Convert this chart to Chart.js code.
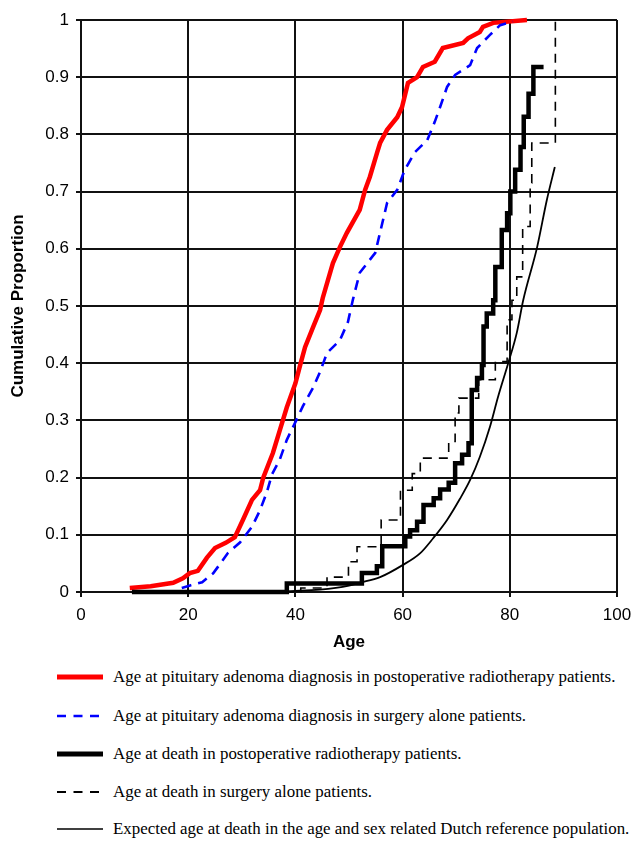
<!DOCTYPE html>
<html>
<head>
<meta charset="utf-8">
<script src="https://cdn.jsdelivr.net/npm/chart.js@4.4.1/dist/chart.umd.min.js"></script>
<style>
  html, body { margin: 0; padding: 0; background: #fff; }
  #wrap { position: relative; width: 635px; height: 841px; }
  #c { position: absolute; left: 0; top: 0; }
  .row { position: absolute; left: 0; height: 20px; display: flex; align-items: center; }
  .row svg { position: absolute; left: 57px; top: 0; }
  .row span { position: absolute; left: 113px; white-space: nowrap; font-family: "Liberation Serif", "Times New Roman", serif; font-size: 16.9px; color: #000; line-height: 20px; top: 0; }
</style>
</head>
<body>
<div id="wrap">
  <canvas id="c" width="635" height="660"></canvas>
  <div id="legend"></div>
</div>
<script>
// ---- Data ----
const seriesLabels = [
  "Age at pituitary adenoma diagnosis in postoperative radiotherapy patients.",
  "Age at pituitary adenoma diagnosis in surgery alone patients.",
  "Age at death in postoperative radiotherapy patients.",
  "Age at death in surgery alone patients.",
  "Expected age at death in the age and sex related Dutch reference population."
];

// Age at diagnosis, postoperative radiotherapy (ages / cumulative proportion)
const rtDiagAge  = [9.1, 13, 17.2, 19, 20.3, 21.8, 23.5, 25, 27, 28.7, 30.2, 31.9, 33.4, 34, 35.8, 37.1, 38.4, 40, 40.9, 41.8, 43.3, 44.6, 45.1, 47, 48.3, 49.6, 52, 53, 53.9, 55.2, 55.8, 57.1, 59, 59.9, 61, 62.7, 63.8, 66, 67.5, 71.3, 72.2, 74.4, 75, 76.9, 83.2];
const rtDiagProp = [0.007, 0.010, 0.016, 0.024, 0.033, 0.037, 0.06, 0.077, 0.086, 0.096, 0.126, 0.161, 0.178, 0.2, 0.243, 0.283, 0.323, 0.365, 0.397, 0.428, 0.463, 0.493, 0.514, 0.575, 0.603, 0.628, 0.668, 0.703, 0.726, 0.767, 0.785, 0.808, 0.83, 0.848, 0.89, 0.9, 0.918, 0.927, 0.951, 0.96, 0.968, 0.979, 0.988, 0.995, 1.0];

// Age at diagnosis, surgery alone
const sgDiagAge  = [18.8, 20.5, 22.6, 24.7, 27.4, 29.7, 31.9, 33.4, 34.7, 35.6, 37.1, 38.4, 40, 41.4, 43.3, 44.6, 45.9, 48.3, 49.8, 50.7, 52, 54.9, 57.1, 59, 60.4, 62.3, 64.6, 66, 67, 68.3, 69.8, 72.6, 73.9, 76.3, 78.2, 80.6];
const sgDiagProp = [0.007, 0.012, 0.017, 0.033, 0.068, 0.087, 0.114, 0.143, 0.175, 0.205, 0.232, 0.266, 0.297, 0.325, 0.357, 0.385, 0.418, 0.44, 0.472, 0.51, 0.558, 0.593, 0.68, 0.703, 0.738, 0.769, 0.79, 0.822, 0.848, 0.883, 0.904, 0.921, 0.951, 0.974, 0.991, 0.997];

// Age at death, postoperative radiotherapy (step points: age of step, new level)
const rtDeathAge  = [9.5, 38.4, 52.4, 55.2, 56.2, 60.5, 61.4, 62.7, 63.9, 65.8, 67.0, 68.6, 69.8, 71.1, 72.3, 72.9, 73.9, 74.8, 75.1, 75.7, 76.9, 77.3, 78.5, 79.5, 80.1, 81.0, 82.0, 82.6, 83.5, 84.4, 86.3];
const rtDeathProp = [0, 0.015, 0.033, 0.045, 0.080, 0.097, 0.108, 0.123, 0.152, 0.164, 0.179, 0.191, 0.225, 0.240, 0.260, 0.353, 0.374, 0.397, 0.464, 0.487, 0.51, 0.568, 0.633, 0.662, 0.70, 0.738, 0.778, 0.831, 0.871, 0.918, 0.918];

// Age at death, surgery alone (step points)
const sgDeathAge  = [38, 41, 45.9, 49.9, 51.5, 56.0, 59.6, 61.8, 63.3, 68.6, 69.8, 70.5, 74.2, 77.3, 79.5, 80.4, 81.3, 82.4, 83.8, 84.1, 88.5];
const sgDeathProp = [0, 0.007, 0.026, 0.053, 0.079, 0.126, 0.178, 0.207, 0.234, 0.263, 0.313, 0.339, 0.371, 0.403, 0.476, 0.51, 0.551, 0.639, 0.715, 0.785, 0.997];

// Expected age at death, Dutch reference population
const refAge  = [10, 30, 40, 44.6, 50, 52, 55.8, 60, 63.3, 65.7, 68.3, 70.7, 72.6, 74.4, 76.3, 77.8, 79.7, 81.3, 82.5, 85.1, 86.9, 88.4];
const refProp = [0, 0.0005, 0.002, 0.004, 0.011, 0.016, 0.026, 0.047, 0.068, 0.094, 0.126, 0.163, 0.196, 0.236, 0.289, 0.341, 0.4, 0.453, 0.51, 0.603, 0.685, 0.743];

// Axis ticks
const xTickValues = [0, 20, 40, 60, 80, 100];
const yTickLabels = ["0", "0.1", "0.2", "0.3", "0.4", "0.5", "0.6", "0.7", "0.8", "0.9", "1"];

// ---- build chart ----
const pts = (xs, ys) => xs.map((x, i) => ({ x: x, y: ys[i] }));

const styles = [
  { color: "#ff0000", width: 4.5, dash: [],      stepped: false, tension: 0 },
  { color: "#0000ff", width: 2.6, dash: [10, 7], stepped: false, tension: 0 },
  { color: "#000000", width: 4.5, dash: [],      stepped: "before", tension: 0 },
  { color: "#000000", width: 1.6, dash: [9, 7],  stepped: "before", tension: 0 },
  { color: "#000000", width: 1.8, dash: [],      stepped: false, tension: 0.4 }
];
const seriesData = [
  pts(rtDiagAge, rtDiagProp),
  pts(sgDiagAge, sgDiagProp),
  pts(rtDeathAge, rtDeathProp),
  pts(sgDeathAge, sgDeathProp),
  pts(refAge, refProp)
];

const datasets = seriesData.map((d, i) => ({
  label: seriesLabels[i],
  data: d,
  borderColor: styles[i].color,
  backgroundColor: styles[i].color,
  borderWidth: styles[i].width,
  borderDash: styles[i].dash,
  stepped: styles[i].stepped,
  tension: styles[i].tension,
  cubicInterpolationMode: i === 4 ? "monotone" : "default",
  pointRadius: 0,
  fill: false,
  clip: false,
  borderJoinStyle: "miter",
  borderCapStyle: "butt",
  order: 5 - i
}));

const tickFont = { family: "'Liberation Sans', Arial, sans-serif", size: 17 };
const titleFont = { family: "'Liberation Sans', Arial, sans-serif", size: 17, weight: "bold" };

new Chart(document.getElementById("c"), {
  type: "line",
  data: { datasets: datasets },
  options: {
    responsive: false,
    animation: false,
    events: [],
    layout: { padding: { top: 20, right: 18, left: 0, bottom: 0 } },
    plugins: { legend: { display: false }, tooltip: { enabled: false } },
    scales: {
      x: {
        type: "linear",
        min: 0, max: 100,
        afterBuildTicks: s => { s.ticks = xTickValues.map(v => ({ value: v })); },
        afterFit: s => { s.height = 68; s.paddingRight = 0; s.paddingLeft = 0; },
        grid: { color: "#111", lineWidth: 2, tickLength: 5, drawTicks: true },
        border: { color: "#111", width: 2 },
        ticks: { font: tickFont, color: "#000", padding: 8, maxRotation: 0 },
        title: { display: true, text: "Age", font: titleFont, color: "#000", padding: { top: 4, bottom: 7 } }
      },
      y: {
        type: "linear",
        min: 0, max: 1,
        afterBuildTicks: s => { s.ticks = yTickLabels.map((t, i) => ({ value: i / 10 })); },
        afterFit: s => { s.width = 81; s.paddingTop = 0; s.paddingBottom = 0; },
        grid: { color: "#111", lineWidth: 2, tickLength: 5, drawTicks: true },
        border: { color: "#111", width: 2 },
        ticks: {
          font: tickFont, color: "#000", padding: 7,
          callback: (v, i) => yTickLabels[i]
        },
        title: { display: true, text: "Cumulative Proportion", font: titleFont, color: "#000", padding: { top: 8, bottom: 4 } }
      }
    }
  }
});

// ---- legend (HTML, built from the series labels/styles) ----
const legendY = [667, 706, 744, 782, 819];
const legend = document.getElementById("legend");
seriesLabels.forEach((lab, i) => {
  const row = document.createElement("div");
  row.className = "row";
  row.style.top = legendY[i] + "px";
  const st = styles[i];
  const svgNS = "http://www.w3.org/2000/svg";
  const svg = document.createElementNS(svgNS, "svg");
  svg.setAttribute("width", "48");
  svg.setAttribute("height", "20");
  const ln = document.createElementNS(svgNS, "line");
  ln.setAttribute("x1", "0"); ln.setAttribute("x2", st.dash.length ? "44" : "46");
  ln.setAttribute("y1", "10"); ln.setAttribute("y2", "10");
  ln.setAttribute("stroke", st.color);
  ln.setAttribute("stroke-width", i === 0 || i === 2 ? 5 : (i === 1 ? 2.6 : (i === 3 ? 2.2 : 1.6)));
  if (st.dash.length) ln.setAttribute("stroke-dasharray", "9 7.5");
  svg.appendChild(ln);
  row.appendChild(svg);
  const sp = document.createElement("span");
  sp.textContent = lab;
  row.appendChild(sp);
  legend.appendChild(row);
});
</script>
</body>
</html>
